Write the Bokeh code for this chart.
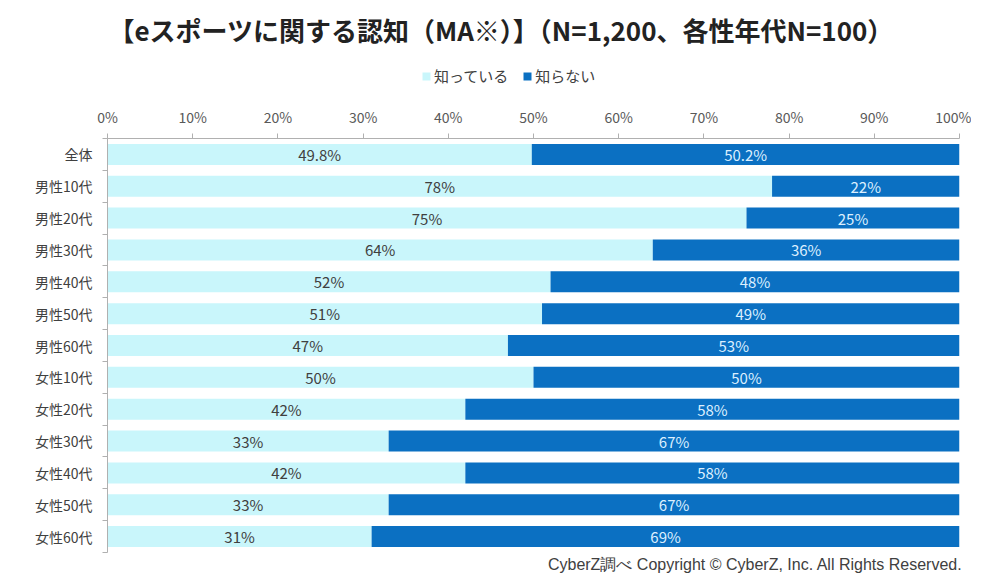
from bokeh.plotting import figure
from bokeh.layouts import column
from bokeh.models import (ColumnDataSource, FixedTicker, LinearAxis,
                          Legend, LegendItem, Title, Range1d, CustomJSTickFormatter)
from bokeh.core.properties import value
from bokeh.embed import file_html
from bokeh.resources import INLINE

title_text = "【eスポーツに関する認知（MA※）】（N=1,200、各性年代N=100）"
footnote = "CyberZ調べ Copyright © CyberZ, Inc. All Rights Reserved."
categories = ["全体", "男性10代", "男性20代", "男性30代", "男性40代", "男性50代", "男性60代",
              "女性10代", "女性20代", "女性30代", "女性40代", "女性50代", "女性60代"]
known = [49.8, 78, 75, 64, 52, 51, 47, 50, 42, 33, 42, 33, 31]
unknown = [50.2, 22, 25, 36, 48, 49, 53, 50, 58, 67, 58, 67, 69]
known_labels = ["49.8%", "78%", "75%", "64%", "52%", "51%", "47%", "50%", "42%", "33%", "42%", "33%", "31%"]
unknown_labels = ["50.2%", "22%", "25%", "36%", "48%", "49%", "53%", "50%", "58%", "67%", "58%", "67%", "69%"]
series_names = ["知っている", "知らない"]
x_ticks = [0, 10, 20, 30, 40, 50, 60, 70, 80, 90, 100]

LIGHT = "#c9f6fb"
DARK = "#0b70c2"
FONT = "Noto Sans CJK JP"

n = len(categories)
ypos = [n - i - 0.5 for i in range(n)]
k_end = known
u_end = [a + b for a, b in zip(known, unknown)]
k_mid = [a / 2 for a in known]
u_mid = [a + b / 2 for a, b in zip(known, unknown)]

src = ColumnDataSource(dict(y=ypos, k=k_end, u=u_end, kl=known_labels, ul=unknown_labels,
                            km=k_mid, um=u_mid, zero=[0] * n))

# ---------- header: title + legend ----------
h = figure(width=971, height=103, output_backend="svg", toolbar_location=None,
           x_range=Range1d(0, 1), y_range=Range1d(0, 1),
           x_axis_location=None, y_axis_location=None,
           min_border_left=0, min_border_right=0, min_border_top=0, min_border_bottom=0)
h.outline_line_color = None
h.grid.visible = False
h.text(x=[0.462], y=[0.72], text=[title_text], text_align="center", text_baseline="middle",
       text_font=value(FONT), text_font_size="26px", text_font_style="bold", text_color="#222222")

# legend swatches: one point each, placed outside the visible range
lr1 = h.hbar(y=[-5], left=[0], right=[0.1], height=0.5, fill_color=LIGHT, line_color=None)
lr2 = h.hbar(y=[-5], left=[0], right=[0.1], height=0.5, fill_color=DARK, line_color=None)
legend = Legend(items=[LegendItem(label=series_names[0], renderers=[lr1]),
                       LegendItem(label=series_names[1], renderers=[lr2])],
                orientation="horizontal", location=(314, 17),
                label_text_font=FONT, label_text_font_size="15px", label_text_color="#404040",
                glyph_width=10, glyph_height=10, spacing=14, label_standoff=3,
                border_line_color=None, background_fill_alpha=0, padding=2, margin=0)
h.add_layout(legend)

# ---------- main chart ----------
p = figure(width=971, height=471, output_backend="svg", toolbar_location=None,
           x_range=Range1d(0, 100), y_range=Range1d(0, n),
           x_axis_location=None, y_axis_location=None,
           min_border_left=107, min_border_right=12, min_border_top=35, min_border_bottom=22)
p.outline_line_color = None
p.grid.visible = False
p.background_fill_color = "white"

r1 = p.hbar(y="y", left="zero", right="k", height=0.66, source=src, fill_color=LIGHT, line_color=None)
r2 = p.hbar(y="y", left="k", right="u", height=0.66, source=src, fill_color=DARK, line_color=None)

p.text(x="km", y="y", text="kl", source=src, text_align="center", text_baseline="middle",
       text_font=value(FONT), text_font_size="15px", text_color="#404040")
p.text(x="um", y="y", text="ul", source=src, text_align="center", text_baseline="middle",
       text_font=value(FONT), text_font_size="15px", text_color="#dcefff")

xa = LinearAxis(ticker=FixedTicker(ticks=x_ticks, minor_ticks=[]),
                formatter=CustomJSTickFormatter(code="return tick + '%';"))
xa.axis_line_color = "#b0b0b0"
xa.major_tick_line_color = "#b0b0b0"
xa.major_tick_in = 0
xa.major_tick_out = 5
xa.minor_tick_line_color = None
xa.major_label_text_font = FONT
xa.major_label_text_font_size = "14px"
xa.major_label_text_color = "#595959"
xa.major_label_standoff = 7
p.add_layout(xa, "above")

ya = LinearAxis(ticker=FixedTicker(ticks=ypos, minor_ticks=list(range(n + 1))))
ya.major_label_overrides = {y: c for y, c in zip(ypos, categories)}
ya.axis_line_color = "#b0b0b0"
ya.major_tick_line_color = None
ya.minor_tick_line_color = "#b0b0b0"
ya.minor_tick_in = 0
ya.minor_tick_out = 5
ya.major_label_text_font = FONT
ya.major_label_text_font_size = "14px"
ya.major_label_text_color = "#404040"
ya.major_label_standoff = 9
p.add_layout(ya, "left")

foot = Title(text=footnote, align="right",
             text_font="Liberation Sans", text_font_size="16px", text_font_style="normal",
             text_color="#404040", offset=-3, standoff=2)
p.add_layout(foot, "below")

layout = column(h, p, spacing=0)
open("out.html", "w").write(file_html(layout, INLINE))
